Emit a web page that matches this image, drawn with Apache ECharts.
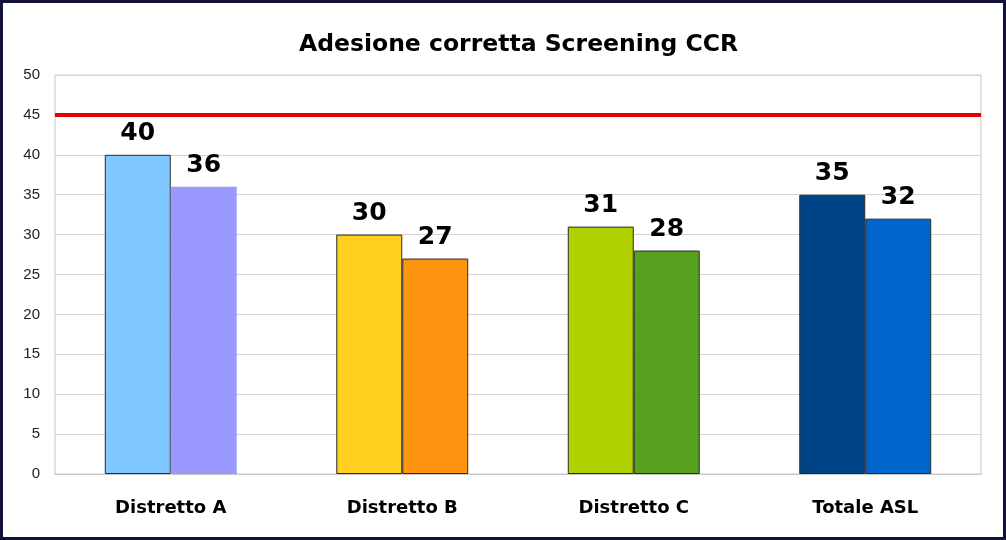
<!DOCTYPE html>
<html>
<head>
<meta charset="utf-8">
<script src="https://cdn.jsdelivr.net/npm/echarts@6/dist/echarts.min.js"></script>
<style>
  html, body { margin: 0; padding: 0; }
  body { width: 1006px; height: 540px; background: #12123a; position: relative; overflow: hidden; }
  #main { position: absolute; left: 3px; top: 3px; width: 1000px; height: 534px; background: #fff; }
</style>
</head>
<body>
<div id="main"></div>
<script type="text/javascript">
    // dati del grafico
    var categorie = ['Distretto A', 'Distretto B', 'Distretto C', 'Totale ASL'];
    var valoriPrimi = [40, 30, 31, 35];
    var valoriSecondi = [36, 27, 28, 32];
    var coloriPrimi = ['#80c8ff', '#ffd020', '#b0d000', '#004488'];
    var coloriSecondi = ['#9999ff', '#ff9410', '#58a020', '#0066cc'];
    var bordiSecondi = [0, 1, 1, 1];
    var obiettivo = 45;

    var myChart = echarts.init(document.getElementById('main'));

    var etichetta = {
        show: true,
        position: 'top',
        distance: 9,
        color: '#000',
        fontSize: 25,
        fontWeight: 'bold',
        fontFamily: 'DejaVu Sans'
    };

    var datiPrimi = [];
    var datiSecondi = [];
    for (var i = 0; i < categorie.length; i++) {
        datiPrimi.push({
            value: valoriPrimi[i],
            itemStyle: {color: coloriPrimi[i], borderColor: '#2a2a2a', borderWidth: 1}
        });
        datiSecondi.push({
            value: valoriSecondi[i],
            itemStyle: {color: coloriSecondi[i], borderColor: '#2a2a2a', borderWidth: bordiSecondi[i]}
        });
    }

    myChart.setOption({
        animation: false,
        title: {
            text: 'Adesione corretta Screening CCR',
            left: 291,
            top: 25,
            textStyle: {
                color: '#000',
                fontSize: 23.5,
                fontWeight: 'bold',
                fontFamily: 'DejaVu Sans'
            }
        },
        grid: {
            left: 52,
            right: 22,
            top: 72,
            bottom: 63,
            show: true,
            borderColor: '#c8c8c8',
            borderWidth: 1
        },
        xAxis: {
            type: 'category',
            data: categorie,
            axisLine: {lineStyle: {color: '#c8c8c8'}},
            axisTick: {show: false},
            axisLabel: {
                margin: 25,
                color: '#000',
                fontSize: 18,
                fontWeight: 'bold',
                fontFamily: 'DejaVu Sans'
            }
        },
        yAxis: {
            type: 'value',
            min: 0,
            max: 50,
            interval: 5,
            axisLine: {show: false},
            axisTick: {show: false},
            splitLine: {lineStyle: {color: '#d4d4d4'}},
            axisLabel: {
                margin: 15,
                color: '#222',
                fontSize: 15,
                fontFamily: 'Liberation Sans'
            }
        },
        series: [
            {
                name: 'primo',
                type: 'bar',
                barGap: '0%',
                barCategoryGap: '43%',
                data: datiPrimi,
                label: etichetta,
                markLine: {
                    silent: true,
                    symbol: 'none',
                    label: {show: false},
                    lineStyle: {color: '#e80000', width: 4, type: 'solid'},
                    data: [{yAxis: obiettivo}]
                }
            },
            {
                name: 'secondo',
                type: 'bar',
                data: datiSecondi,
                label: etichetta
            }
        ]
    });
</script>
</body>
</html>
